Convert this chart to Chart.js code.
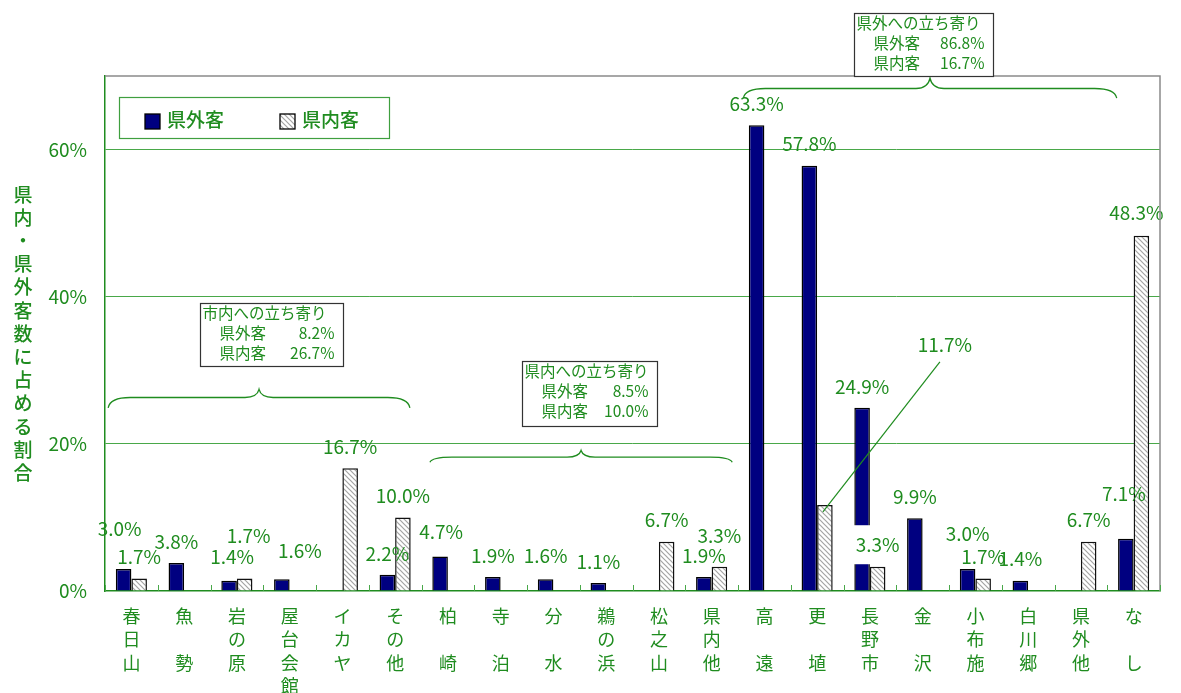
<!DOCTYPE html>
<html lang="ja">
<head>
<meta charset="utf-8">
<title>県内・県外客の立ち寄り先</title>
<script src="https://cdn.jsdelivr.net/npm/chart.js@4.4.1/dist/chart.umd.min.js"></script>
<style>
  html, body { margin: 0; padding: 0; background: #fff; }
  #wrap { width: 1181px; height: 693px; }
</style>
</head>
<body>
<div id="wrap"><canvas id="chart" width="1181" height="693"></canvas></div>
<script>
"use strict";

// 立ち寄り先（縦書きラベル、空文字は行送りだけ）
const categories = [
  ['春', '日', '山'], ['魚', '', '勢'], ['岩', 'の', '原'], ['屋', '台', '会', '館'],
  ['イ', 'カ', 'ヤ'], ['そ', 'の', '他'], ['柏', '', '崎'], ['寺', '', '泊'],
  ['分', '', '水'], ['鵜', 'の', '浜'], ['松', '之', '山'], ['県', '内', '他'],
  ['高', '', '遠'], ['更', '', '埴'], ['長', '野', '市'], ['金', '', '沢'],
  ['小', '布', '施'], ['白', '川', '郷'], ['県', '外', '他'], ['な', '', 'し']
];
const kengaiValues = [3.0, 3.8, 1.4, 1.6, null, 2.2, 4.7, 1.9, 1.6, 1.1, null, 1.9, 63.3, 57.8, 24.9, 9.9, 3.0, 1.4, null, 7.1];
const kennaiValues = [1.7, null, 1.7, null, 16.7, 10.0, null, null, null, null, 6.7, 3.3, null, 11.7, 3.3, null, 1.7, null, 6.7, 48.3];
const yTicks = [0, 20, 40, 60];

// 立ち寄り区分ごとの集計
const groupTitles = ['市内への立ち寄り', '県内への立ち寄り', '県外への立ち寄り'];
const groupKengai = [8.2, 8.5, 86.8];
const groupKennai = [26.7, 10.0, 16.7];

// 区分の枠と括弧の置き場所（x はカテゴリ番号、y は % の目盛り）
const groupBoxes = [
  { x0: 1.30, x1: 4.01, top: 39.2, bottom: 30.6 },
  { x0: 7.40, x1: 9.96, top: 31.2, bottom: 22.4 },
  { x0: 13.69, x1: 16.33, top: 78.6, bottom: 70.05 }
];
const groupBraces = [
  { x0: -0.44, x1: 5.28, line: 26.3, peak: 27.4, end: 24.9 },
  { x0: 5.66, x1: 11.39, line: 18.2, peak: 19.1, end: 17.5 },
  { x0: 11.60, x1: 18.68, line: 68.3, peak: 69.7, end: 67.0 }
];

// 値ラベルの位置調整（棒の上端から）
const labelNudge = {
  kengai: { 0: { dx: -4, dy: -40 }, 2: { dx: 3, dy: -24 }, 3: { dx: 18, dy: -28 }, 6: { dx: 1, dy: -24.5 },
            8: { dy: -23 }, 16: { dy: -35 }, 19: { dx: -2, dy: -45 } },
  kennai: { 2: { dx: 4, dy: -43 }, 11: { dy: -31 }, 13: { dx: 120, dy: -160, leader: true },
            14: { knockout: true }, 19: { dx: -5, dy: -23 } }
};

const GREEN = '#1f8c1f';
const GRID = '#49a849';
const NAVY = '#000080';
const FONT = '"Noto Sans CJK JP", "Noto Sans", sans-serif';

const canvas = document.getElementById('chart');
const ctx = canvas.getContext('2d');

function makeHatch() {
  const s = 5;
  const c = document.createElement('canvas');
  c.width = s; c.height = s;
  const g = c.getContext('2d');
  g.fillStyle = '#fff';
  g.fillRect(0, 0, s, s);
  g.strokeStyle = '#a4a4a4';
  g.lineWidth = 1.2;
  g.beginPath();
  g.moveTo(-1, -1); g.lineTo(s + 1, s + 1);
  g.moveTo(-1, s - 1); g.lineTo(1, s + 1);
  g.moveTo(s - 1, -1); g.lineTo(s + 1, 1);
  g.stroke();
  return ctx.createPattern(c, 'repeat');
}
const hatch = makeHatch();

function idxToPx(chart, idx) {
  return chart.scales.x.getPixelForValue(idx);
}
function valToPx(chart, v) {
  return chart.scales.y.getPixelForValue(v);
}

const frame = {
  id: 'frame',
  afterDraw(chart) {
    const { ctx, chartArea: a, scales: { x } } = chart;
    ctx.save();
    // 上と右の枠
    ctx.strokeStyle = '#8a8a8a';
    ctx.lineWidth = 1.5;
    ctx.beginPath();
    ctx.moveTo(a.left, a.top);
    ctx.lineTo(a.right, a.top);
    ctx.lineTo(a.right, a.bottom);
    ctx.stroke();
    // 区切りの目盛り（内向き）
    ctx.strokeStyle = GRID;
    ctx.lineWidth = 1;
    const w = x.getPixelForValue(1) - x.getPixelForValue(0);
    for (let k = 0; k <= categories.length; k++) {
      const px = Math.round(a.left + k * w) + 0.5;
      ctx.beginPath();
      ctx.moveTo(px, a.bottom);
      ctx.lineTo(px, a.bottom - 6);
      ctx.stroke();
    }
    ctx.restore();
  }
};

const yTitle = {
  id: 'yTitle',
  afterDraw(chart) {
    const { ctx, chartArea: a } = chart;
    const chars = Array.from('県内・県外客数に占める割合');
    const step = 23.2;
    const mid = (a.top + a.bottom) / 2;
    const y0 = mid - step * (chars.length - 1) / 2;
    ctx.save();
    ctx.fillStyle = GREEN;
    ctx.font = `500 19px ${FONT}`;
    ctx.textAlign = 'center';
    ctx.textBaseline = 'middle';
    chars.forEach((ch, i) => ctx.fillText(ch, 23, y0 + i * step));
    ctx.restore();
  }
};

const legendBox = {
  id: 'legendBox',
  afterDraw(chart) {
    const { ctx, chartArea: a } = chart;
    const lx = a.left + 14, ly = a.top + 21;
    ctx.save();
    ctx.fillStyle = '#fff';
    ctx.fillRect(lx, ly, 270, 41);
    ctx.strokeStyle = '#3f9f3f';
    ctx.lineWidth = 1.2;
    ctx.strokeRect(lx + 0.5, ly + 0.5, 270, 41);
    const items = [
      { fill: NAVY, text: '県外客', sx: lx + 26 },
      { fill: hatch, text: '県内客', sx: lx + 161 }
    ];
    ctx.font = `500 19px ${FONT}`;
    ctx.textBaseline = 'middle';
    ctx.textAlign = 'left';
    items.forEach(it => {
      ctx.fillStyle = it.fill;
      ctx.fillRect(it.sx, ly + 17, 15, 15);
      ctx.strokeStyle = '#000';
      ctx.lineWidth = 1.3;
      ctx.strokeRect(it.sx, ly + 17, 15, 15);
      ctx.fillStyle = GREEN;
      ctx.fillText(it.text, it.sx + 22, ly + 23);
    });
    ctx.restore();
  }
};

function drawBrace(ctx, x0, x1, yLine, yPeak, yEnd) {
  const xm = (x0 + x1) / 2;
  const r = 22, r2 = 14;
  ctx.beginPath();
  ctx.moveTo(x0, yEnd);
  ctx.quadraticCurveTo(x0 + 2, yLine, x0 + r, yLine);
  ctx.lineTo(xm - r2, yLine);
  ctx.quadraticCurveTo(xm - 2, yLine, xm, yPeak);
  ctx.quadraticCurveTo(xm + 2, yLine, xm + r2, yLine);
  ctx.lineTo(x1 - r, yLine);
  ctx.quadraticCurveTo(x1 - 2, yLine, x1, yEnd);
  ctx.stroke();
}

const groupNotes = {
  id: 'groupNotes',
  afterDraw(chart) {
    const { ctx } = chart;
    ctx.save();
    ctx.strokeStyle = GREEN;
    ctx.lineWidth = 1.3;
    groupBraces.forEach(b => {
      drawBrace(ctx, idxToPx(chart, b.x0), idxToPx(chart, b.x1),
        valToPx(chart, b.line), valToPx(chart, b.peak), valToPx(chart, b.end));
    });
    groupBoxes.forEach((b, i) => {
      const left = Math.round(idxToPx(chart, b.x0)) + 0.5;
      const right = Math.round(idxToPx(chart, b.x1)) + 0.5;
      const top = Math.round(valToPx(chart, b.top)) + 0.5;
      const bottom = Math.round(valToPx(chart, b.bottom)) + 0.5;
      ctx.fillStyle = '#fff';
      ctx.fillRect(left, top, right - left, bottom - top);
      ctx.strokeStyle = '#333';
      ctx.lineWidth = 1.2;
      ctx.strokeRect(left, top, right - left, bottom - top);
      ctx.fillStyle = GREEN;
      ctx.font = `15.5px ${FONT}`;
      ctx.textBaseline = 'middle';
      ctx.textAlign = 'left';
      ctx.fillText(groupTitles[i], left + 2, top + 10);
      ctx.fillText('県外客', left + 19, top + 30);
      ctx.fillText('県内客', left + 19, top + 50);
      ctx.textAlign = 'right';
      ctx.fillText(groupKengai[i].toFixed(1) + '%', right - 9, top + 30);
      ctx.fillText(groupKennai[i].toFixed(1) + '%', right - 9, top + 50);
    });
    ctx.restore();
  }
};

const barValues = {
  id: 'barValues',
  afterDatasetsDraw(chart) {
    const { ctx } = chart;
    ctx.save();
    ctx.font = `19px ${FONT}`;
    ctx.textAlign = 'center';
    ctx.textBaseline = 'middle';
    chart.data.datasets.forEach((ds, di) => {
      const meta = chart.getDatasetMeta(di);
      meta.data.forEach((bar, i) => {
        const v = ds.data[i];
        if (v == null) return;
        const n = labelNudge[ds.key][i] || {};
        const x = bar.x + (n.dx || 0);
        const y = bar.y + (n.dy != null ? n.dy : -21.5);
        const text = v.toFixed(1) + '%';
        if (n.knockout) {
          ctx.fillStyle = '#fff';
          ctx.fillRect(x - 27, y - 20, 54, 39);
        }
        if (n.leader) {
          ctx.strokeStyle = GREEN;
          ctx.lineWidth = 1.2;
          ctx.beginPath();
          ctx.moveTo(x - 5, y + 17);
          ctx.lineTo(bar.x - 2, bar.y + 7);
          ctx.stroke();
        }
        ctx.fillStyle = GREEN;
        ctx.fillText(text, x, y);
      });
    });
    ctx.restore();
  }
};

new Chart(canvas, {
  type: 'bar',
  data: {
    labels: categories,
    datasets: [
      {
        key: 'kengai',
        label: '県外客',
        data: kengaiValues,
        backgroundColor: NAVY,
        borderColor: '#000',
        borderWidth: 1.5,
        barPercentage: 1,
        categoryPercentage: 0.59
      },
      {
        key: 'kennai',
        label: '県内客',
        data: kennaiValues,
        backgroundColor: hatch,
        borderColor: '#111',
        borderWidth: 1.5,
        barPercentage: 1,
        categoryPercentage: 0.59
      }
    ]
  },
  options: {
    responsive: false,
    animation: false,
    devicePixelRatio: 1,
    layout: { padding: { left: 0, right: 21, top: 76, bottom: 0 } },
    scales: {
      x: {
        offset: true,
        grid: { display: false, drawTicks: false },
        border: { display: true, color: GREEN, width: 1.5 },
        ticks: {
          color: GREEN,
          font: { family: FONT, size: 18, lineHeight: 1.31 },
          padding: 13,
          maxRotation: 0,
          minRotation: 0,
          autoSkip: false
        },
        afterFit(scale) { scale.height = 102; }
      },
      y: {
        min: 0,
        max: 70,
        afterBuildTicks(scale) { scale.ticks = yTicks.map(v => ({ value: v })); },
        grid: {
          drawTicks: false,
          color: c => (c.tick && c.tick.value === 0 ? 'rgba(0,0,0,0)' : GRID),
          lineWidth: 1
        },
        border: { display: true, color: GREEN, width: 1.5 },
        ticks: {
          color: GREEN,
          font: { family: FONT, size: 19 },
          padding: 18,
          callback: v => v + '%'
        },
        afterFit(scale) { scale.width = 105; }
      }
    },
    plugins: {
      legend: { display: false },
      tooltip: { enabled: false }
    }
  },
  plugins: [frame, barValues, yTitle, legendBox, groupNotes]
});
</script>
</body>
</html>
